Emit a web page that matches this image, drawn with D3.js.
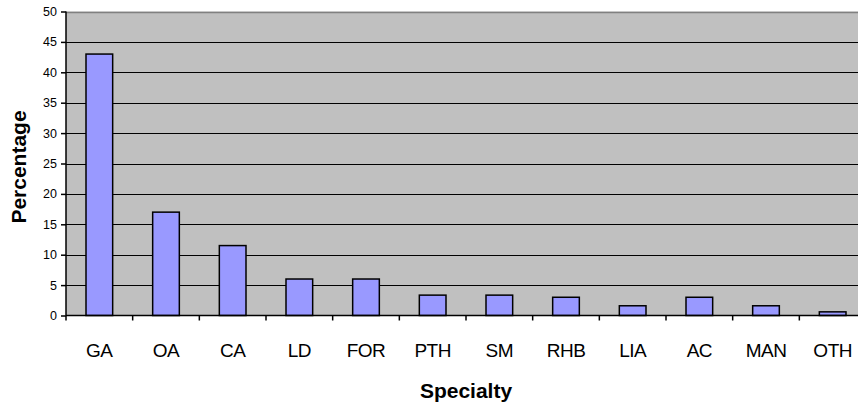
<!DOCTYPE html>
<html><head><meta charset="utf-8">
<script src="https://cdn.jsdelivr.net/npm/d3@7"></script>
<style>body{margin:0;background:#fff}svg{display:block}text{font-family:"Liberation Sans",Arial,sans-serif}</style>
</head><body>
<svg id="c" width="858" height="407"></svg>
<script>
const categories = ["GA","OA","CA","LD","FOR","PTH","SM","RHB","LIA","AC","MAN","OTH"];
const values = [43, 17, 11.5, 6, 6, 3.35, 3.35, 3, 1.6, 3, 1.6, 0.6];
const yTicks = [0,5,10,15,20,25,30,35,40,45,50];

const svg = d3.select("#c");
const pL = 66, pR = 866, pT = 11.5, pB = 315.5;
const x = d3.scaleBand().domain(categories).range([pL, pR]).paddingInner(0.6).paddingOuter(0.3);
const xb = d3.scaleBand().domain(categories).range([pL, pR]);
const y = d3.scaleLinear().domain([0,50]).range([pB, pT]);

svg.append("rect").attr("x", pL).attr("y", pT).attr("width", pR-pL).attr("height", pB-pT).attr("fill", "#c0c0c0");

svg.append("g").selectAll("line").data(yTicks.filter(d=>d>0)).join("line")
  .attr("x1", pL).attr("x2", pR)
  .attr("y1", d=>Math.round(y(d))+0.5).attr("y2", d=>Math.round(y(d))+0.5)
  .attr("stroke", d=>d===50?"#808080":"#000").attr("stroke-width", d=>d===50?1.5:1);

svg.append("g").selectAll("rect").data(values).join("rect")
  .attr("x", (d,i)=>x(categories[i]))
  .attr("y", d=>y(d))
  .attr("width", x.bandwidth())
  .attr("height", d=>y(0)-y(d))
  .attr("fill", "#9999ff").attr("stroke", "#000").attr("stroke-width", 1.5);

// y axis
const ya = svg.append("g").attr("transform", `translate(${pL},0)`)
  .call(d3.axisLeft(y).tickValues(yTicks).tickSize(5).tickPadding(4));
ya.select(".domain").attr("stroke", "#000").attr("stroke-width", 1.5).attr("d", `M0,${pT}V${pB}`);
ya.selectAll("text").attr("font-size", 12.5).attr("fill", "#000").attr("font-family", "Liberation Sans, Arial, sans-serif");
ya.selectAll(".tick line").attr("stroke", "#000").attr("stroke-width", 1.5);

// x axis
const xa = svg.append("g").attr("transform", `translate(0,${pB})`);
xa.append("line").attr("x1", pL).attr("x2", pR).attr("y1", 0).attr("y2", 0).attr("stroke", "#000").attr("stroke-width", 1.5);
xa.selectAll("line.t").data(categories).join("line").attr("class","t")
  .attr("x1", d=>xb(d)).attr("x2", d=>xb(d)).attr("y1", 0).attr("y2", 5)
  .attr("stroke", "#000").attr("stroke-width", 1.5);
xa.selectAll("text").data(categories).join("text")
  .attr("x", d=>xb(d)+xb.bandwidth()/2).attr("y", 41.5)
  .attr("text-anchor", "middle").attr("font-size", 19).attr("letter-spacing", -0.5).attr("fill", "#000").text(d=>d);

svg.append("text").attr("x", 466).attr("y", 398).attr("text-anchor", "middle")
  .attr("font-size", 21).attr("font-weight", "bold").text("Specialty");
svg.append("text").attr("transform", "translate(26,167) rotate(-90)").attr("text-anchor", "middle")
  .attr("font-size", 21).attr("font-weight", "bold").text("Percentage");
</script>
</body></html>
